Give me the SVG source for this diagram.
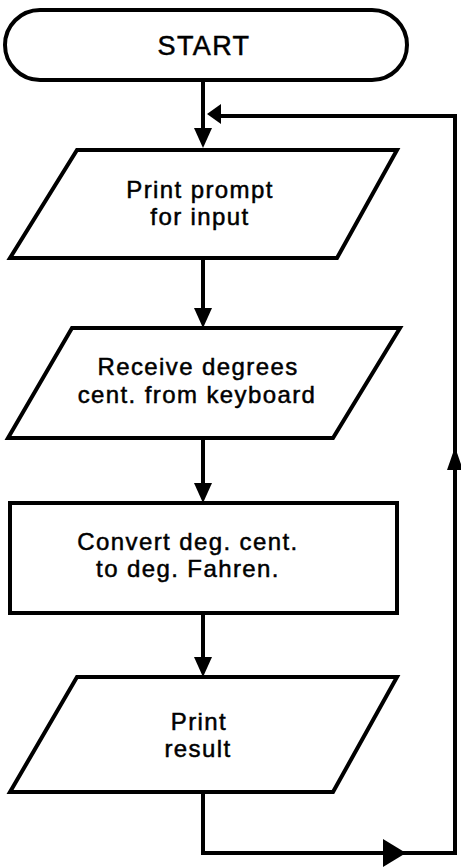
<svg xmlns="http://www.w3.org/2000/svg" width="461" height="867" viewBox="0 0 461 867">
<style>
.shape{fill:#fff;stroke:#000;stroke-width:4;stroke-linejoin:miter}
.line{fill:none;stroke:#000;stroke-width:4}
.ah{fill:#000;stroke:none}
text{font-family:"Liberation Sans",Arial,sans-serif;font-size:24px;letter-spacing:1.4px;fill:#000;stroke:#000;stroke-width:0.5;text-anchor:middle}
</style>
<rect width="461" height="867" fill="#fff"/>
<g id="connectors">
<path class="line" d="M203 80 V130"/>
<path class="ah" d="M194 128 L212 128 L203 148 Z"/>
<path class="line" d="M455 470 V116 H220"/>
<path class="ah" d="M207 114 L221 104 L221 124 Z"/>
<path class="line" d="M203 258 V310"/>
<path class="ah" d="M194 308 L212 308 L203 328 Z"/>
<path class="line" d="M203 438 V485"/>
<path class="ah" d="M194 483 L212 483 L203 503 Z"/>
<path class="line" d="M203 613 V659"/>
<path class="ah" d="M194 657 L212 657 L203 677 Z"/>
<path class="line" d="M203 792 V853 H455 V468"/>
<path class="ah" d="M383 839 L406 853 L383 867 Z"/>
<path class="ah" d="M455 447 L447 470 L463 470 Z"/>
</g>
<g id="start">
<rect class="shape" x="5" y="10" width="402" height="70" rx="35" ry="35"/>
<text x="204" y="55" style="font-size:27px">START</text>
</g>
<g id="print-prompt">
<polygon class="shape" points="77,150 397,150 337,258 10,258"/>
<text x="200" y="198">Print prompt</text>
<text x="200" y="225">for input</text>
</g>
<g id="receive">
<polygon class="shape" points="72,328 400,328 333,438 8,438"/>
<text x="198" y="375">Receive degrees</text>
<text x="197" y="403">cent. from keyboard</text>
</g>
<g id="convert">
<rect class="shape" x="10" y="503" width="387" height="110"/>
<text x="188" y="550">Convert deg. cent.</text>
<text x="188" y="577">to deg. Fahren.</text>
</g>
<g id="print-result">
<polygon class="shape" points="77,677 397,677 333,792 10,792"/>
<text x="199" y="730">Print</text>
<text x="198" y="757">result</text>
</g>
</svg>
